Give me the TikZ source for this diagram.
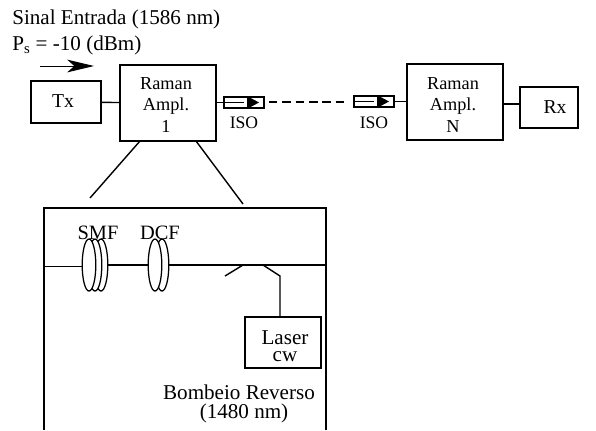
\documentclass[tikz,border=0pt]{standalone}
\usepackage{xcolor}
\usepackage{fontspec}
\setmainfont{Liberation Serif}
\usetikzlibrary{positioning,shapes,arrows,arrows.meta,calc}

\tikzset{
    block/.style={draw, line width=1pt, inner sep=0pt},
    coil/.style={draw, ellipse, fill=white, line width=0.9pt, minimum width=0.34cm, minimum height=1.3cm, inner sep=0pt},
    isobox/.style={draw, line width=1pt, minimum width=1cm, minimum height=0.27cm, inner sep=0pt},
    link/.style={line width=1pt},
    lbl/.style={inner sep=0pt, align=center}
}

\begin{document}
\begin{tikzpicture}[x=0.025cm,y=-0.025cm]
    \useasboundingbox (0,0) rectangle (596,430);
    % top row
    \node[block, minimum width=1.75cm, minimum height=1.05cm] (tx) at (66,102) {};
    \node[block, minimum width=2.4cm, minimum height=1.9cm] (ramanA) at (168,103) {};
    \node[isobox] (isoA) at (244,102.5) {};
    \node[isobox] (isoB) at (374,101.5) {};
    \node[block, minimum width=2.4cm, minimum height=1.9cm] (ramanN) at (455,102) {};
    \node[block, minimum width=1.45cm, minimum height=1.02cm] (rx) at (549,107.5) {};
    \node[lbl, font=\fontsize{14}{16}\selectfont] (txtxt) at (63,101) {Tx};
    \node[lbl, font=\fontsize{13}{15.3}\selectfont] (ramanAtxt) at (166,105) {Raman\\Ampl.\\1};
    \node[lbl, font=\fontsize{13}{15.3}\selectfont] (ramanNtxt) at (453,105) {Raman\\Ampl.\\N};
    \node[lbl, font=\fontsize{14}{16}\selectfont] (rxtxt) at (555,107) {Rx};
    \draw[link] (tx) -- (ramanA);
    \draw[link] (ramanA.east |- isoA) -- (isoA);
    \draw[link] (isoB) -- (ramanN.west |- isoB);
    \coordinate (rxA) at (503,104);
    \draw[link] (rxA) -- (rx.west |- rxA);
    \coordinate (dashA) at (269,102);
    \coordinate (dashB) at (346,102);
    \draw[link, dash pattern=on 6pt off 3.5pt] (dashA) -- (dashB);
    % isolators
    \foreach \n in {isoA,isoB} {
        \draw[line width=0.6pt] (\n.west) -- (\n.center);
        \fill ($(\n.center)+(3,-6.5)$) -- ($(\n.center)+(15,0)$) -- ($(\n.center)+(3,6.5)$) -- cycle;
    }
    \node[lbl, font=\fontsize{12.5}{15}\selectfont] (isoAtxt) at (244,123) {ISO};
    \node[lbl, font=\fontsize{12.5}{15}\selectfont] (isoBtxt) at (374,123) {ISO};
    % signal
    \node[lbl, anchor=west, font=\fontsize{15}{18}\selectfont] (sinal) at (12,19) {Sinal Entrada (1586 nm)};
    \node[lbl, anchor=west, font=\fontsize{15}{18}\selectfont] (pot) at (12,45.5) {P\textsubscript{s} = -10 (dBm)};
    \coordinate (sigA) at (40,66);
    \coordinate (sigB) at (94,66);
    \draw[-{Stealth[length=19pt,width=9pt,inset=5pt]}, line width=0.7pt] (sigA) -- (sigB);
    % zoom lines and pump box
    \coordinate (zoomA) at (140,141);
    \coordinate (zoomB) at (90,198);
    \coordinate (zoomC) at (196,141);
    \coordinate (zoomD) at (243,204);
    \draw[link] (zoomA) -- (zoomB);
    \draw[link] (zoomC) -- (zoomD);
    \coordinate (boxA) at (44,430);
    \coordinate (boxB) at (44,208);
    \coordinate (boxC) at (326,208);
    \coordinate (boxD) at (326,430);
    \draw[link] (boxA) -- (boxB) -- (boxC) -- (boxD);
    % fibre
    \coordinate (fibA) at (44,266.5);
    \coordinate (fibB) at (326,265);
    \coordinate (copA) at (243,265);
    \coordinate (copB) at (225,276);
    \coordinate (copC) at (263,265);
    \coordinate (copD) at (280,276);
    \foreach \n/\x in {smfC/101, smfB/95, smfA/89, dcfB/162, dcfA/155}
        \node[coil] (\n) at (\x,265) {};
    \draw[link] (fibA) -- (smfA.west |- fibA);
    \draw[link] (smfC.east) -- (dcfA.west);
    \draw[link] (dcfB.east) -- (fibB);
    \draw[link] (copA) -- (copB);
    \node[block, minimum width=1.9cm, minimum height=1.28cm] (laser) at (283,342.5) {};
    \node[lbl, font=\fontsize{15}{12}\selectfont] (lasertxt) at (285,346) {Laser\\cw};
    \draw[link] (copC) -- (copD) -- (laser.north -| copD);
    \node[lbl, font=\fontsize{14.5}{16}\selectfont] (smf) at (98,233) {SMF};
    \node[lbl, font=\fontsize{14.5}{16}\selectfont] (dcf) at (160,233) {DCF};
    \node[lbl, font=\fontsize{15}{16}\selectfont] (bombeio) at (239,392) {Bombeio Reverso};
    \node[lbl, font=\fontsize{15}{16}\selectfont] (pump) at (244,413) {(1480 nm)};
\end{tikzpicture}
\end{document}
